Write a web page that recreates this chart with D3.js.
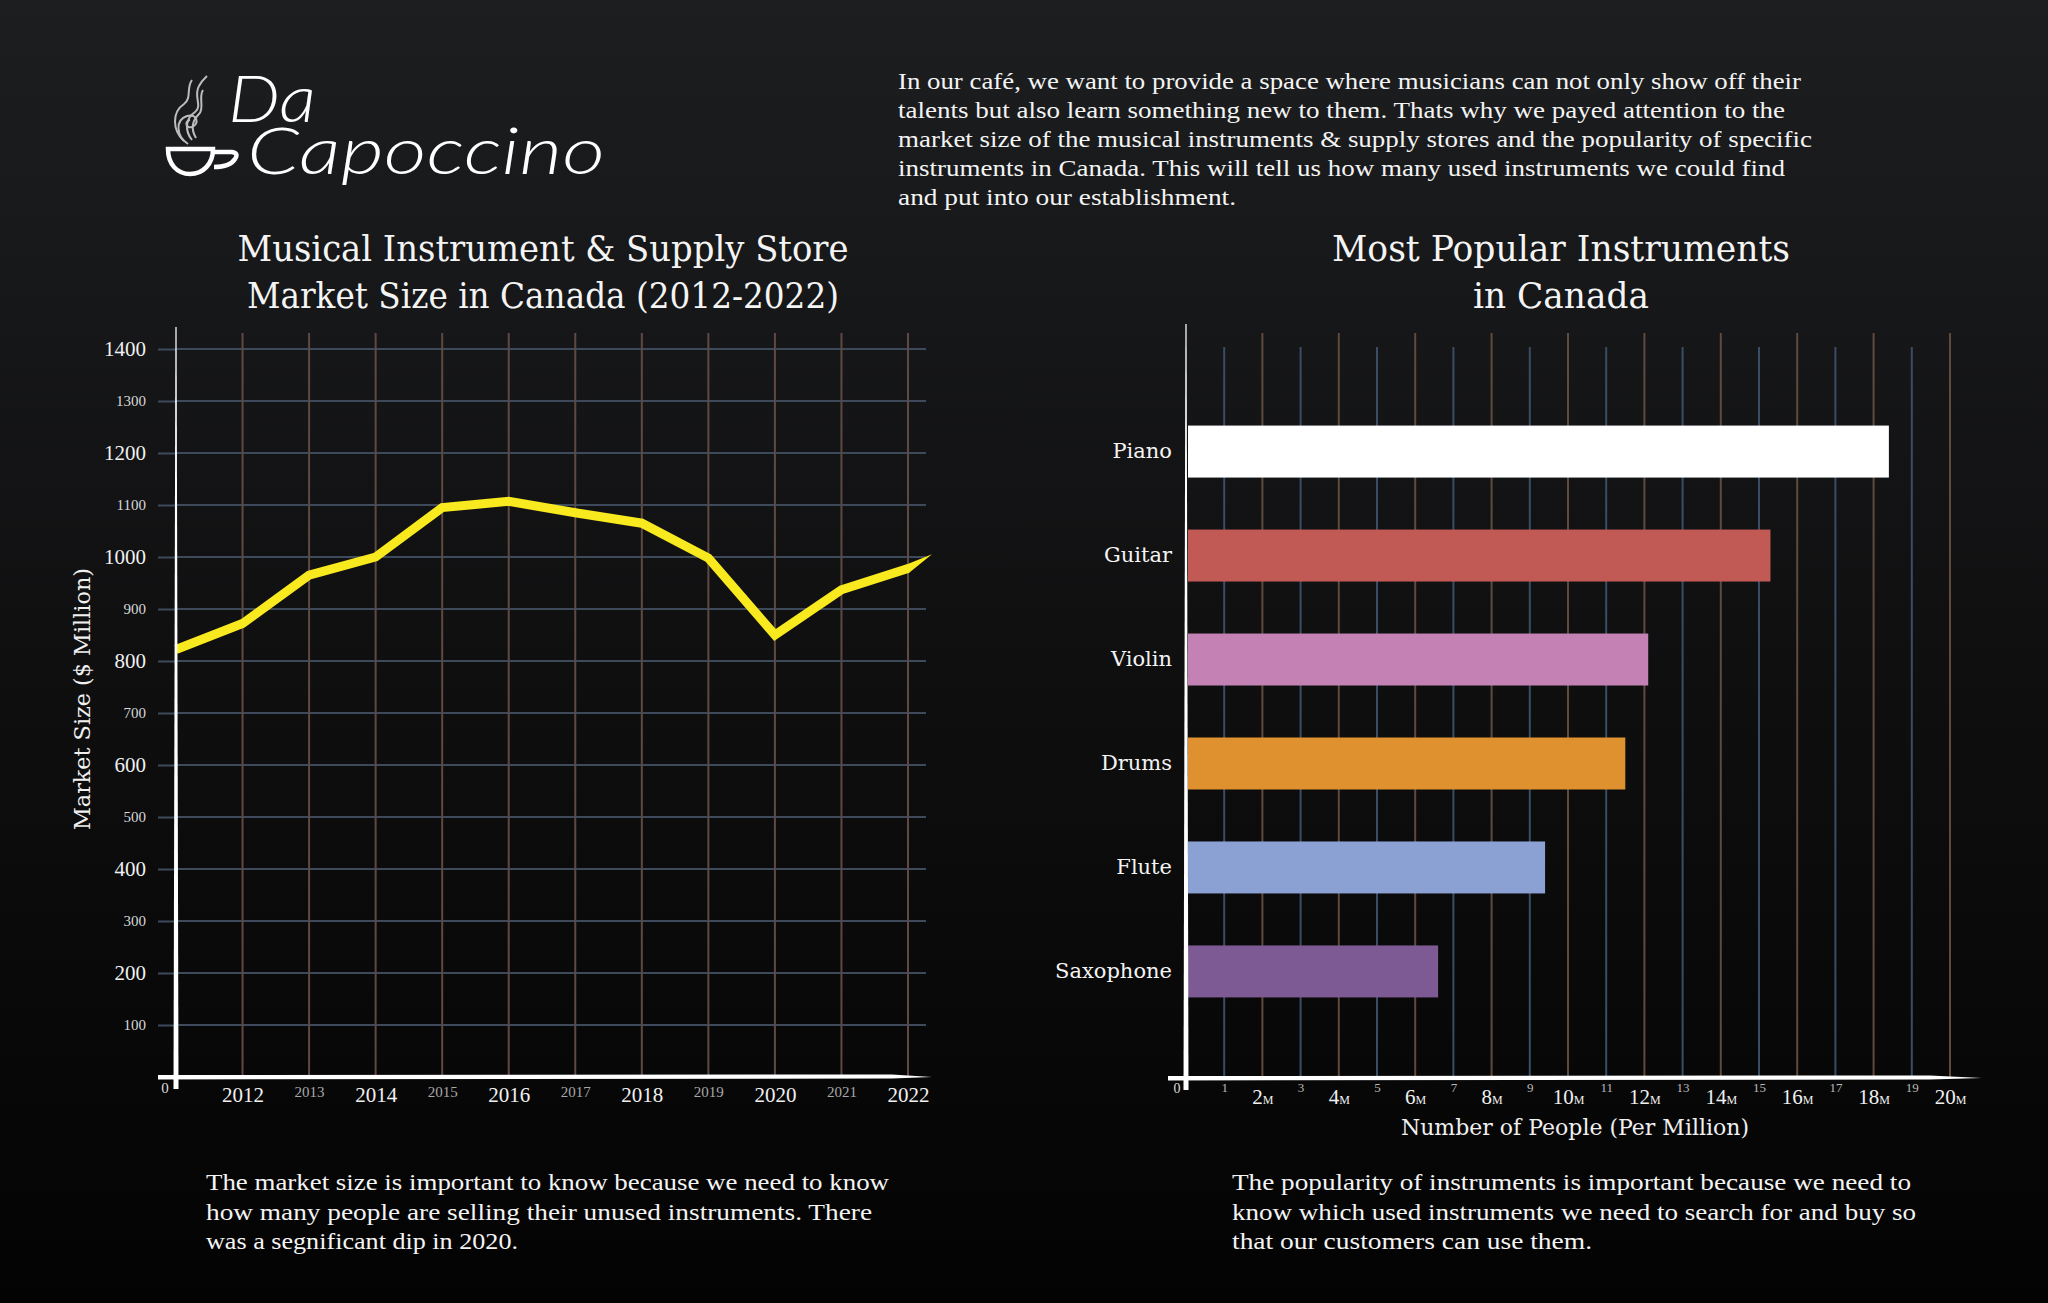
<!DOCTYPE html>
<html><head><meta charset="utf-8">
<script src="https://cdn.jsdelivr.net/npm/d3@7"></script>
<style>html,body{margin:0;padding:0;background:#000;} svg{display:block}</style>
</head><body>
<svg id="c" width="2048" height="1303"></svg>
<script>
// ---------- DATA ----------
const marketYears = [2011, 2012, 2013, 2014, 2015, 2016, 2017, 2018, 2019, 2020, 2021, 2022, 2023];
const marketSize  = [822, 872, 965, 1000, 1095, 1107, 1085, 1065, 998, 850, 937, 978, 1053];
const yearTicks   = [2012, 2013, 2014, 2015, 2016, 2017, 2018, 2019, 2020, 2021, 2022];
const sizeTicks   = [100, 200, 300, 400, 500, 600, 700, 800, 900, 1000, 1100, 1200, 1300, 1400];

const instruments = ["Piano", "Guitar", "Violin", "Drums", "Flute", "Saxophone"];
const popularity  = [18.4, 15.3, 12.1, 11.5, 9.4, 6.6];
const barColors   = ["#ffffff", "#c15a55", "#c481b4", "#e0912f", "#8ba0d3", "#7d5a93"];
const peopleTicks = [1, 2, 3, 4, 5, 6, 7, 8, 9, 10, 11, 12, 13, 14, 15, 16, 17, 18, 19, 20];

const introText = [
  "In our café, we want to provide a space where musicians can not only show off their",
  "talents but also learn something new to them. Thats why we payed attention to the",
  "market size of the musical instruments & supply stores and the popularity of specific",
  "instruments in Canada. This will tell us how many used instruments we could find",
  "and put into our establishment."
];
const leftNote = [
  "The market size is important to know because we need to know",
  "how many people are selling their unused instruments. There",
  "was a segnificant dip in 2020."
];
const rightNote = [
  "The popularity of instruments is important because we need to",
  "know which used instruments we need to search for and buy so",
  "that our customers can use them."
];
const leftTitle  = ["Musical Instrument & Supply Store", "Market Size in Canada (2012-2022)"];
const rightTitle = ["Most Popular Instruments", "in Canada"];
const logoWords  = ["Da", "Capoccino"];

// ---------- SETUP ----------
const TF = "'DejaVu Serif', serif";
const BF = "'Liberation Serif', 'Times New Roman', serif";
const svg = d3.select("#c");
const defs = svg.append("defs");
const bg = defs.append("linearGradient").attr("id", "bg").attr("x1", 0).attr("y1", 0).attr("x2", 0).attr("y2", 1);
bg.append("stop").attr("offset", "0%").attr("stop-color", "#1d1e20");
bg.append("stop").attr("offset", "55%").attr("stop-color", "#0e0e0f");
bg.append("stop").attr("offset", "100%").attr("stop-color", "#030303");
svg.append("rect").attr("width", 2048).attr("height", 1303).attr("fill", "url(#bg)");

// ---------- LOGO ----------
const logo = svg.append("g");
logo.append("path").attr("d", "M168,149 L213,149 C213,164 203,174 190,174 C177,174 168,164 168,149 Z")
  .attr("fill", "none").attr("stroke", "#fff").attr("stroke-width", 4.5);
logo.append("path").attr("d", "M213,152 L232,152 Q239,153 235,159 Q230,167 214,167")
  .attr("fill", "none").attr("stroke", "#fff").attr("stroke-width", 4.5);
const steam = ["M188,144 C176,136 175,120 187,116 C197,113 200,124 192,127 C186,129 184,121 190,120",
  "M192,140 C184,130 186,118 195,112 C203,106 193,96 199,86 C202,80 205,78 207,76",
  "M184,141 C172,130 172,112 184,104 C192,98 186,88 192,80",
  "M196,138 C190,128 193,120 199,114 C205,108 198,98 203,90"];
logo.selectAll("path.st").data(steam).join("path").attr("class", "st").attr("d", d => d)
  .attr("fill", "none").attr("stroke", "#bdbdbd").attr("stroke-width", 2);
const logoText = logo.append("text")
  .attr("font-family", "Lato, 'DejaVu Sans', sans-serif").attr("font-style", "italic").attr("font-weight", 300)
  .attr("font-size", 66).attr("fill", "#fff");
const logoPos = [[228, 122, 88], [247, 174, 358]];
logoText.selectAll("tspan").data(logoWords).join("tspan")
  .attr("x", (d, i) => logoPos[i][0]).attr("y", (d, i) => logoPos[i][1])
  .attr("textLength", (d, i) => logoPos[i][2]).attr("lengthAdjust", "spacingAndGlyphs")
  .text(d => d);

// ---------- PARAGRAPHS ----------
function para(lines, x, y0, lh, widths) {
  svg.append("g").selectAll("text").data(lines).join("text")
    .attr("x", x).attr("y", (d, i) => y0 + i * lh)
    .attr("font-family", BF).attr("font-size", 23.5).attr("fill", "#f4f4f4")
    .attr("textLength", (d, i) => widths[i]).attr("lengthAdjust", "spacingAndGlyphs")
    .text(d => d);
}
para(introText, 898, 89, 29, [903, 887, 914, 887, 338]);
para(leftNote, 206, 1190, 29.5, [683, 666, 312]);
para(rightNote, 1232, 1190, 29.5, [679, 684, 360]);

function title(lines, cx, widths) {
  svg.append("g").selectAll("text").data(lines).join("text")
    .attr("x", cx).attr("y", (d, i) => 261 + i * 47)
    .attr("text-anchor", "middle").attr("font-family", TF).attr("font-size", 34.5).attr("fill", "#f4f4f4")
    .attr("textLength", (d, i) => widths[i]).attr("lengthAdjust", "spacingAndGlyphs")
    .text(d => d);
}
title(leftTitle, 543, [611, 592]);
title(rightTitle, 1561, [458, 176]);

// ---------- LEFT CHART ----------
const xL = d3.scaleLinear().domain([2011, 2022]).range([176, 908]);
const yL = d3.scaleLinear().domain([0, 1400]).range([1077, 349]);
const plotRightL = 932;
const L = svg.append("g");

L.append("g").selectAll("line").data(sizeTicks).join("line")
  .attr("x1", 176).attr("x2", 926).attr("y1", d => yL(d)).attr("y2", d => yL(d))
  .attr("stroke", "#3c4a5c").attr("stroke-width", 2);
L.append("g").selectAll("line").data(yearTicks).join("line")
  .attr("x1", d => xL(d)).attr("x2", d => xL(d)).attr("y1", 333).attr("y2", yL(0))
  .attr("stroke", "#5e4a43").attr("stroke-width", 2);

const gyL = L.append("g").attr("transform", `translate(${xL(2011)},0)`)
  .call(d3.axisLeft(yL).tickValues(sizeTicks).tickSize(18).tickPadding(12).tickFormat(d3.format("d")));
gyL.select(".domain").remove();
gyL.selectAll(".tick line").attr("stroke", "#3c4a5c").attr("stroke-width", 2);
gyL.selectAll(".tick text")
  .attr("font-family", BF).attr("fill", d => d % 200 === 0 ? "#f0f0f0" : "#d8d8d8")
  .attr("font-size", d => d % 200 === 0 ? 21 : 15);

const gxL = L.append("g").attr("transform", `translate(0,${yL(0)})`)
  .call(d3.axisBottom(xL).tickValues(yearTicks).tickSize(0).tickFormat(d3.format("d")));
gxL.select(".domain").remove();
gxL.selectAll(".tick text")
  .attr("dy", 0).attr("y", d => d % 2 === 0 ? 25 : 20)
  .attr("font-family", BF).attr("fill", d => d % 2 === 0 ? "#f0f0f0" : "#a8a8a8")
  .attr("font-size", d => d % 2 === 0 ? 21 : 15);
L.append("text").attr("x", 165).attr("y", yL(0) + 16).attr("text-anchor", "middle")
  .attr("font-family", BF).attr("font-size", 15).attr("fill", "#ddd").text("0");

const lineData = marketYears.map((y, i) => ({ year: y, value: marketSize[i] }));
const mainData = lineData.filter(d => d.year <= 2022);
L.append("path").datum(mainData)
  .attr("d", d3.line().x(d => xL(d.year)).y(d => yL(d.value)))
  .attr("fill", "none").attr("stroke", "#f8ea1e").attr("stroke-width", 9)
  .attr("stroke-linejoin", "miter").attr("stroke-miterlimit", 4);
{
  const a = lineData[lineData.length - 2], b = lineData[lineData.length - 1];
  const t = xL.invert(plotRightL) - a.year;
  const p0 = [xL(a.year), yL(a.value)];
  const p1 = [plotRightL, yL(a.value + (b.value - a.value) * t)];
  const dx = p1[0] - p0[0], dy = p1[1] - p0[1], len = Math.hypot(dx, dy);
  const nx = -dy / len * 4.5, ny = dx / len * 4.5;
  L.append("path")
    .attr("d", `M${p0[0] - dx / len * 2 + nx},${p0[1] - dy / len * 2 + ny} L${p1[0]},${p1[1]} L${p0[0] - dx / len * 2 - nx},${p0[1] - dy / len * 2 - ny} Z`)
    .attr("fill", "#f8ea1e");
}

const ax0 = xL(2011);
L.append("path").attr("d", `M${ax0 - 2.5},${yL(0) + 12} L${ax0 - 0.6},${327} L${ax0 + 0.6},${327} L${ax0 + 2.5},${yL(0) + 12} Z`).attr("fill", "#fff");
L.append("path").attr("d", `M158,${yL(0) - 2} L${plotRightL - 40},${yL(0) - 2.5} L${plotRightL},${yL(0)} L${plotRightL - 40},${yL(0) + 1.5} L158,${yL(0) + 2.5} Z`).attr("fill", "#fff");

L.append("text").attr("transform", `translate(84,699) rotate(-90)`).attr("text-anchor", "middle")
  .attr("dominant-baseline", "middle").attr("font-family", TF).attr("font-size", 22).attr("fill", "#f0f0f0")
  .attr("textLength", 262).attr("lengthAdjust", "spacingAndGlyphs")
  .text("Market Size ($ Million)");

// ---------- RIGHT CHART ----------
const xR = d3.scaleLinear().domain([0, 20]).range([1186, 1950]);
const yR = d3.scaleBand().domain(instruments).range([345, 1078]).paddingInner(0.5).paddingOuter(0.775);
const R = svg.append("g");
const baseR = 1078;

R.append("g").selectAll("line").data(peopleTicks).join("line")
  .attr("x1", d => xR(d)).attr("x2", d => xR(d))
  .attr("y1", d => d % 2 === 0 ? 333 : 347).attr("y2", baseR)
  .attr("stroke", d => d % 2 === 0 ? "#5f4a3d" : "#3a4d64").attr("stroke-width", 2);

R.append("g").selectAll("rect").data(instruments).join("rect")
  .attr("x", xR(0) + 2).attr("y", d => yR(d)).attr("height", yR.bandwidth())
  .attr("width", (d, i) => xR(popularity[i]) - xR(0) - 2)
  .attr("fill", (d, i) => barColors[i]);

const gyR = R.append("g").attr("transform", `translate(${xR(0)},0)`)
  .call(d3.axisLeft(yR).tickSize(0).tickPadding(14));
gyR.select(".domain").remove();
gyR.selectAll(".tick text").attr("font-family", TF).attr("font-size", 21).attr("fill", "#f4f4f4");

const gxR = R.append("g").attr("transform", `translate(0,${baseR})`)
  .call(d3.axisBottom(xR).tickValues(peopleTicks).tickSize(0).tickFormat(""));
gxR.select(".domain").remove();
gxR.selectAll(".tick text").remove();
const tk = gxR.selectAll(".tick").append("text")
  .attr("text-anchor", "middle").attr("font-family", BF)
  .attr("y", d => d % 2 === 0 ? 26 : 14)
  .attr("fill", d => d % 2 === 0 ? "#f0f0f0" : "#b8b8b8")
  .attr("font-size", d => d % 2 === 0 ? 21 : 13);
tk.append("tspan").text(d => d);
tk.filter(d => d % 2 === 0).append("tspan").attr("font-size", 12).text("M");
R.append("text").attr("x", 1177).attr("y", baseR + 15).attr("text-anchor", "middle")
  .attr("font-family", BF).attr("font-size", 14).attr("fill", "#ddd").text("0");

R.append("path").attr("d", `M${xR(0) - 2.5},${baseR + 12} L${xR(0) - 0.6},${324} L${xR(0) + 0.6},${324} L${xR(0) + 2.5},${baseR + 12} Z`).attr("fill", "#fff");
R.append("path").attr("d", `M1168,${baseR - 2} L1930,${baseR - 2.5} L1982,${baseR} L1930,${baseR + 1.5} L1168,${baseR + 2.5} Z`).attr("fill", "#fff");

R.append("text").attr("x", 1575).attr("y", 1135).attr("text-anchor", "middle")
  .attr("font-family", TF).attr("font-size", 22).attr("fill", "#f0f0f0").text("Number of People (Per Million)");
</script>
</body></html>
